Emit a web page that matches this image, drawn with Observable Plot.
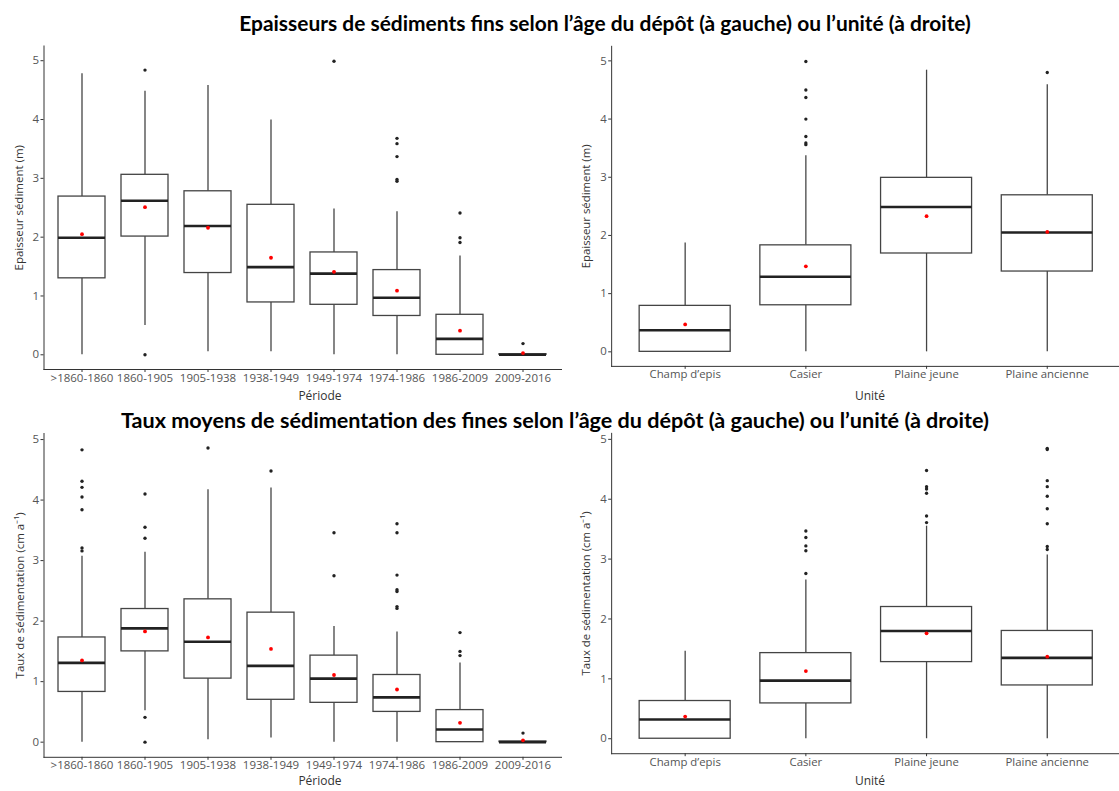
<!DOCTYPE html>
<html><head><meta charset="utf-8">
<script src="https://cdn.jsdelivr.net/npm/d3@7"></script>
<script src="https://cdn.jsdelivr.net/npm/@observablehq/plot@0.6"></script>
<style>
body{margin:0;background:#fff;}
#wrap{position:relative;width:1119px;height:791px;overflow:hidden;background:#fff;}
.panel{position:absolute;}
.panel svg{font-family:"Open Sans",sans-serif !important;}
.panel svg text{font-family:"Open Sans",sans-serif !important;}
.title{position:absolute;font-family:"Lato","Open Sans",sans-serif;font-weight:700;font-size:16px;color:#000;white-space:nowrap;line-height:1;}
.xlab{position:absolute;font-family:"Open Sans",sans-serif;font-size:12px;color:#333;white-space:nowrap;line-height:1;}
.panel svg g[aria-label$="tick label"]{fill:#555;}
.panel svg g[aria-label$="axis label"]{fill:#333;font-size:11.5px;}
</style></head><body><div id="wrap"></div>
<script>
// ---- Categories ----
const periodes = [">1860-1860","1860-1905","1905-1938","1938-1949","1949-1974","1974-1986","1986-2009","2009-2016"];
const unites = ["Champ d\u2019epis","Casier","Plaine jeune","Plaine ancienne"];
const yTicks = [0,1,2,3,4,5];

// ---- Panel A : épaisseur (m) par période ----
const epPerLow  = [0, 0.50, 0.05, 0.05, 0, 0, 0, 0];
const epPerQ1   = [1.30, 2.01, 1.39, 0.89, 0.85, 0.66, 0, 0];
const epPerMed  = [1.99, 2.62, 2.19, 1.49, 1.38, 0.97, 0.27, 0];
const epPerQ3   = [2.69, 3.06, 2.78, 2.55, 1.74, 1.44, 0.68, 0.01];
const epPerHigh = [4.78, 4.48, 4.58, 3.99, 2.48, 2.43, 1.68, 0.01];
const epPerMean = [2.05, 2.51, 2.16, 1.65, 1.41, 1.09, 0.41, 0.03];
const epPerOut  = [["1860-1905",4.84],["1860-1905",0],["1949-1974",4.99],
  ["1974-1986",3.68],["1974-1986",3.59],["1974-1986",3.37],["1974-1986",2.98],["1974-1986",2.95],
  ["1986-2009",2.41],["1986-2009",1.99],["1986-2009",1.91],["2009-2016",0.19]];

// ---- Panel B : épaisseur (m) par unité ----
const epUniLow  = [0, 0, 0, 0];
const epUniQ1   = [0, 0.80, 1.69, 1.38];
const epUniMed  = [0.37, 1.29, 2.49, 2.05];
const epUniQ3   = [0.79, 1.83, 2.99, 2.69];
const epUniHigh = [1.87, 3.37, 4.84, 4.59];
const epUniMean = [0.47, 1.47, 2.33, 2.06];
const epUniOut  = [["Casier",4.99],["Casier",4.50],["Casier",4.37],["Casier",4.00],["Casier",3.70],["Casier",3.59],["Casier",3.56],
  ["Plaine ancienne",4.80]];

// ---- Panel C : taux (cm/an) par période ----
const txPerLow  = [0, 0.52, 0.04, 0.07, 0, 0, 0, 0];
const txPerQ1   = [0.83, 1.50, 1.05, 0.70, 0.65, 0.50, 0, 0];
const txPerMed  = [1.31, 1.88, 1.66, 1.26, 1.05, 0.74, 0.21, 0];
const txPerQ3   = [1.73, 2.20, 2.36, 2.14, 1.43, 1.11, 0.53, 0.01];
const txPerHigh = [3.07, 3.14, 4.17, 4.20, 1.91, 1.82, 1.31, 0.01];
const txPerMean = [1.35, 1.83, 1.73, 1.54, 1.11, 0.87, 0.32, 0.03];
const txPerOut  = [[">1860-1860",4.83],[">1860-1860",4.31],[">1860-1860",4.21],[">1860-1860",4.05],[">1860-1860",3.84],[">1860-1860",3.21],[">1860-1860",3.16],
  ["1860-1905",4.10],["1860-1905",3.55],["1860-1905",3.37],["1860-1905",0.41],["1860-1905",0],
  ["1905-1938",4.86],["1938-1949",4.48],["1949-1974",3.46],["1949-1974",2.75],
  ["1974-1986",3.61],["1974-1986",3.46],["1974-1986",2.76],["1974-1986",2.52],["1974-1986",2.49],["1974-1986",2.24],["1974-1986",2.21],
  ["1986-2009",1.81],["1986-2009",1.50],["1986-2009",1.43],["2009-2016",0.15]];

// ---- Panel D : taux (cm/an) par unité ----
const txUniLow  = [0, 0, 0, 0];
const txUniQ1   = [0, 0.59, 1.28, 0.89];
const txUniMed  = [0.32, 0.97, 1.80, 1.35];
const txUniQ3   = [0.63, 1.43, 2.20, 1.80];
const txUniHigh = [1.46, 2.65, 3.55, 3.07];
const txUniMean = [0.37, 1.13, 1.76, 1.37];
const txUniOut  = [["Casier",3.47],["Casier",3.36],["Casier",3.22],["Casier",3.14],["Casier",2.76],
  ["Plaine jeune",4.48],["Plaine jeune",4.21],["Plaine jeune",4.17],["Plaine jeune",4.10],["Plaine jeune",3.72],["Plaine jeune",3.61],
  ["Plaine ancienne",4.85],["Plaine ancienne",4.83],["Plaine ancienne",4.31],["Plaine ancienne",4.21],["Plaine ancienne",4.05],["Plaine ancienne",3.84],["Plaine ancienne",3.59],["Plaine ancienne",3.21],["Plaine ancienne",3.16]];

const titre1 = "Epaisseurs de s\u00e9diments fins selon l\u2019\u00e2ge du d\u00e9p\u00f4t (\u00e0 gauche) ou l\u2019unit\u00e9 (\u00e0 droite)";
const titre2 = "Taux moyens de s\u00e9dimentation des fines selon l\u2019\u00e2ge du d\u00e9p\u00f4t (\u00e0 gauche) ou l\u2019unit\u00e9 (\u00e0 droite)";
const labEp = "Epaisseur s\u00e9diment (m)";
const labTx = "Taux de s\u00e9dimentation (cm a\u207b\u00b9)";
const labPer = "P\u00e9riode";
const labUni = "Unit\u00e9";

const wrap = document.getElementById("wrap");

function panel(o) {
  const rows = o.cats.map((c, i) => ({c, low: o.low[i], q1: o.q1[i], med: o.med[i], q3: o.q3[i], high: o.high[i], mean: o.mean[i]}));
  const outs = o.out.map(([c, v]) => ({c, v}));
  const svg = Plot.plot({
    width: o.width, height: o.height,
    marginLeft: o.mL, marginRight: o.mR, marginTop: o.mT, marginBottom: o.mB,
    style: {fontFamily: "'Open Sans', sans-serif", fontSize: "11.5px", color: "#333", background: "transparent", overflow: "visible"},
    x: {type: "band", domain: o.cats, paddingInner: 0.25, paddingOuter: 0.225, align: 0.5,
        label: null, tickSize: 3, tickPadding: 1, line: true},
    y: {domain: [-0.25, o.yTop], ticks: yTicks, tickFormat: d => String(d), tickSize: 3, tickPadding: 2,
        label: o.yLabel, labelAnchor: "center", labelOffset: o.yOff, labelArrow: false, line: true},
    marks: [
      Plot.ruleX(rows, {x: "c", y1: "low", y2: "q1", stroke: "#444", strokeWidth: 1.3}),
      Plot.ruleX(rows, {x: "c", y1: "q3", y2: "high", stroke: "#444", strokeWidth: 1.3}),
      Plot.barY(rows, {x: "c", y1: "q1", y2: "q3", fill: "white", stroke: "#444", strokeWidth: 1.3}),
      Plot.tickY(rows, {x: "c", y: "med", stroke: "#222", strokeWidth: 2.6}),
      Plot.dot(outs, {x: "c", y: "v", r: 1.7, fill: "#222", stroke: "none"}),
      Plot.dot(rows, {x: "c", y: "mean", r: 1.9, fill: "#ff0000", stroke: "none"})
    ]
  });
  const div = document.createElement("div");
  div.className = "panel";
  div.style.left = o.left + "px";
  div.style.top = o.top + "px";
  div.appendChild(svg);
  wrap.appendChild(div);
}

panel({cats: periodes, low: epPerLow, q1: epPerQ1, med: epPerMed, q3: epPerQ3, high: epPerHigh, mean: epPerMean, out: epPerOut,
  left: 0, top: 30, width: 561, height: 380, mL: 43.5, mR: 0, mT: 15.5, mB: 41, yTop: 5.25, yLabel: labEp, yOff: 29});
panel({cats: unites, low: epUniLow, q1: epUniQ1, med: epUniMed, q3: epUniQ3, high: epUniHigh, mean: epUniMean, out: epUniOut,
  left: 560, top: 30, width: 565, height: 380, mL: 51.7, mR: 0, mT: 16, mB: 40.5, yTop: 5.25, yLabel: labEp, yOff: 30});
panel({cats: periodes, low: txPerLow, q1: txPerQ1, med: txPerMed, q3: txPerQ3, high: txPerHigh, mean: txPerMean, out: txPerOut,
  left: 0, top: 420, width: 561, height: 371, mL: 43.5, mR: 0, mT: 13, mB: 34.2, yTop: 5.1, yLabel: labTx, yOff: 28});
panel({cats: unites, low: txUniLow, q1: txUniQ1, med: txUniMed, q3: txUniQ3, high: txUniHigh, mean: txUniMean, out: txUniOut,
  left: 560, top: 420, width: 565, height: 371, mL: 51.7, mR: 0, mT: 13, mB: 34.2, yTop: 5.1, yLabel: labTx, yOff: 30});

function place(cls, text, cx, cy, targetW) {
  const d = document.createElement("div");
  d.className = cls;
  d.textContent = text;
  wrap.appendChild(d);
  if (targetW) {
    const w = d.getBoundingClientRect().width;
    d.style.fontSize = (16 * targetW / w).toFixed(2) + "px";
  }
  const r = d.getBoundingClientRect();
  d.style.left = (cx - r.width / 2) + "px";
  d.style.top = (cy - r.height / 2) + "px";
}
place("xlab", labPer, 320, 396);
place("xlab", labUni, 870, 396);
place("xlab", labPer, 320, 781);
place("xlab", labUni, 870, 781);
place("title", titre1, 605, 23, 732);
place("title", titre2, 555, 421, 868);
</script>
</body></html>
